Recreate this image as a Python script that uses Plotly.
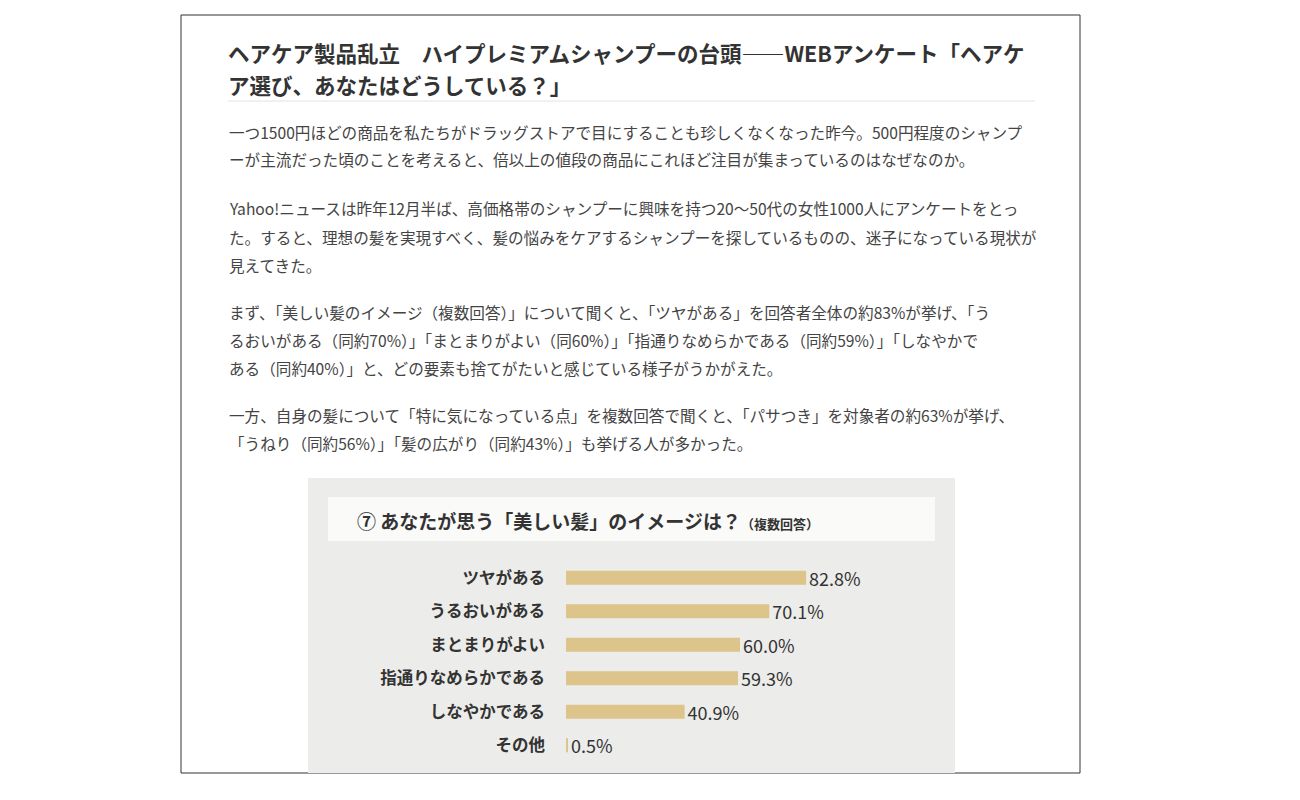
import plotly.graph_objects as go

categories = ["ツヤがある", "うるおいがある", "まとまりがよい", "指通りなめらかである", "しなやかである", "その他"]
values = [82.8, 70.1, 60.0, 59.3, 40.9, 0.5]
value_labels = ["82.8%", "70.1%", "60.0%", "59.3%", "40.9%", "0.5%"]

W, H = 1300, 800
F = "Noto Sans CJK JP"
OFF = 8
def px(x): return (x - OFF) / W
def py(y): return 1 - (y - OFF) / H

fig = go.Figure()
fig.add_trace(go.Bar(
    x=values, y=categories, orientation="h",
    marker=dict(color="#dcc48a", line=dict(width=0)), width=0.42,
    text=value_labels, textposition="outside", cliponaxis=False, constraintext="none",
    textfont=dict(family=F, size=18, color="#333"),
    hoverinfo="skip",
))

shapes = [
    dict(type="rect", xref="paper", yref="paper", x0=px(181), x1=px(1080), y0=py(773), y1=py(15),
         line=dict(color="#333", width=1), fillcolor="white", layer="below"),
    dict(type="rect", xref="paper", yref="paper", x0=px(308), x1=px(955), y0=py(773), y1=py(478),
         line=dict(width=0), fillcolor="#ececea", layer="below"),
    dict(type="rect", xref="paper", yref="paper", x0=px(328), x1=px(935), y0=py(541), y1=py(497),
         line=dict(width=0), fillcolor="#fafaf8", layer="below"),
    dict(type="line", xref="paper", yref="paper", x0=px(228), x1=px(1035), y0=py(101), y1=py(101),
         line=dict(color="#e2e2e2", width=1)),
]

ann = []
def T(x, y, s, size=14, color="#444", bold=False, xanchor="left"):
    ann.append(dict(xref="paper", yref="paper", x=px(x), y=py(y), text=("<b>%s</b>" % s) if bold else s,
                    showarrow=False, xanchor=xanchor, yanchor="middle",
                    font=dict(family=F, size=size, color=color)))

T(226, 52, "ヘアケア製品乱立　ハイプレミアムシャンプーの台頭――WEBアンケート「ヘアケ", 21.5, "#333", True)
T(226, 85, "ア選び、あなたはどうしている？」", 21.5, "#333", True)
lines = [
    (132, "一つ1500円ほどの商品を私たちがドラッグストアで目にすることも珍しくなくなった昨今。500円程度のシャンプ"),
    (159, "ーが主流だった頃のことを考えると、倍以上の値段の商品にこれほど注目が集まっているのはなぜなのか。"),
    (208, "Yahoo!ニュースは昨年12月半ば、高価格帯のシャンプーに興味を持つ20〜50代の女性1000人にアンケートをとっ"),
    (237, "た。すると、理想の髪を実現すべく、髪の悩みをケアするシャンプーを探しているものの、迷子になっている現状が"),
    (265, "見えてきた。"),
    (312, "まず、「美しい髪のイメージ（複数回答）」について聞くと、「ツヤがある」を回答者全体の約83%が挙げ、「う"),
    (340, "るおいがある（同約70%）」「まとまりがよい（同60%）」「指通りなめらかである（同約59%）」「しなやかで"),
    (368, "ある（同約40%）」と、どの要素も捨てがたいと感じている様子がうかがえた。"),
    (415, "一方、自身の髪について「特に気になっている点」を複数回答で聞くと、「パサつき」を対象者の約63%が挙げ、"),
    (443, "「うねり（同約56%）」「髪の広がり（同約43%）」も挙げる人が多かった。"),
]
for y, s in lines:
    T(227, y, s, 15.6, "#444")
T(355, 520, "<b>⑦ あなたが思う「美しい髪」のイメージは？</b><span style='font-size:13px'><b>（複数回答）</b></span>", 19, "#333")

fig.update_layout(
    width=W, height=H, margin=dict(l=0, r=0, t=0, b=0),
    paper_bgcolor="white", plot_bgcolor="rgba(0,0,0,0)",
    showlegend=False, shapes=shapes, annotations=ann,
    xaxis=dict(domain=[px(566), px(856)], range=[0, 100], visible=False, fixedrange=True),
    yaxis=dict(domain=[py(762), py(561)], autorange="reversed", showgrid=False, zeroline=False,
               showline=False, ticks="", ticklabelstandoff=20,
               tickfont=dict(family=F, size=16.5, color="#333", weight="bold"), fixedrange=True),
)
fig.write_html("out.html")
